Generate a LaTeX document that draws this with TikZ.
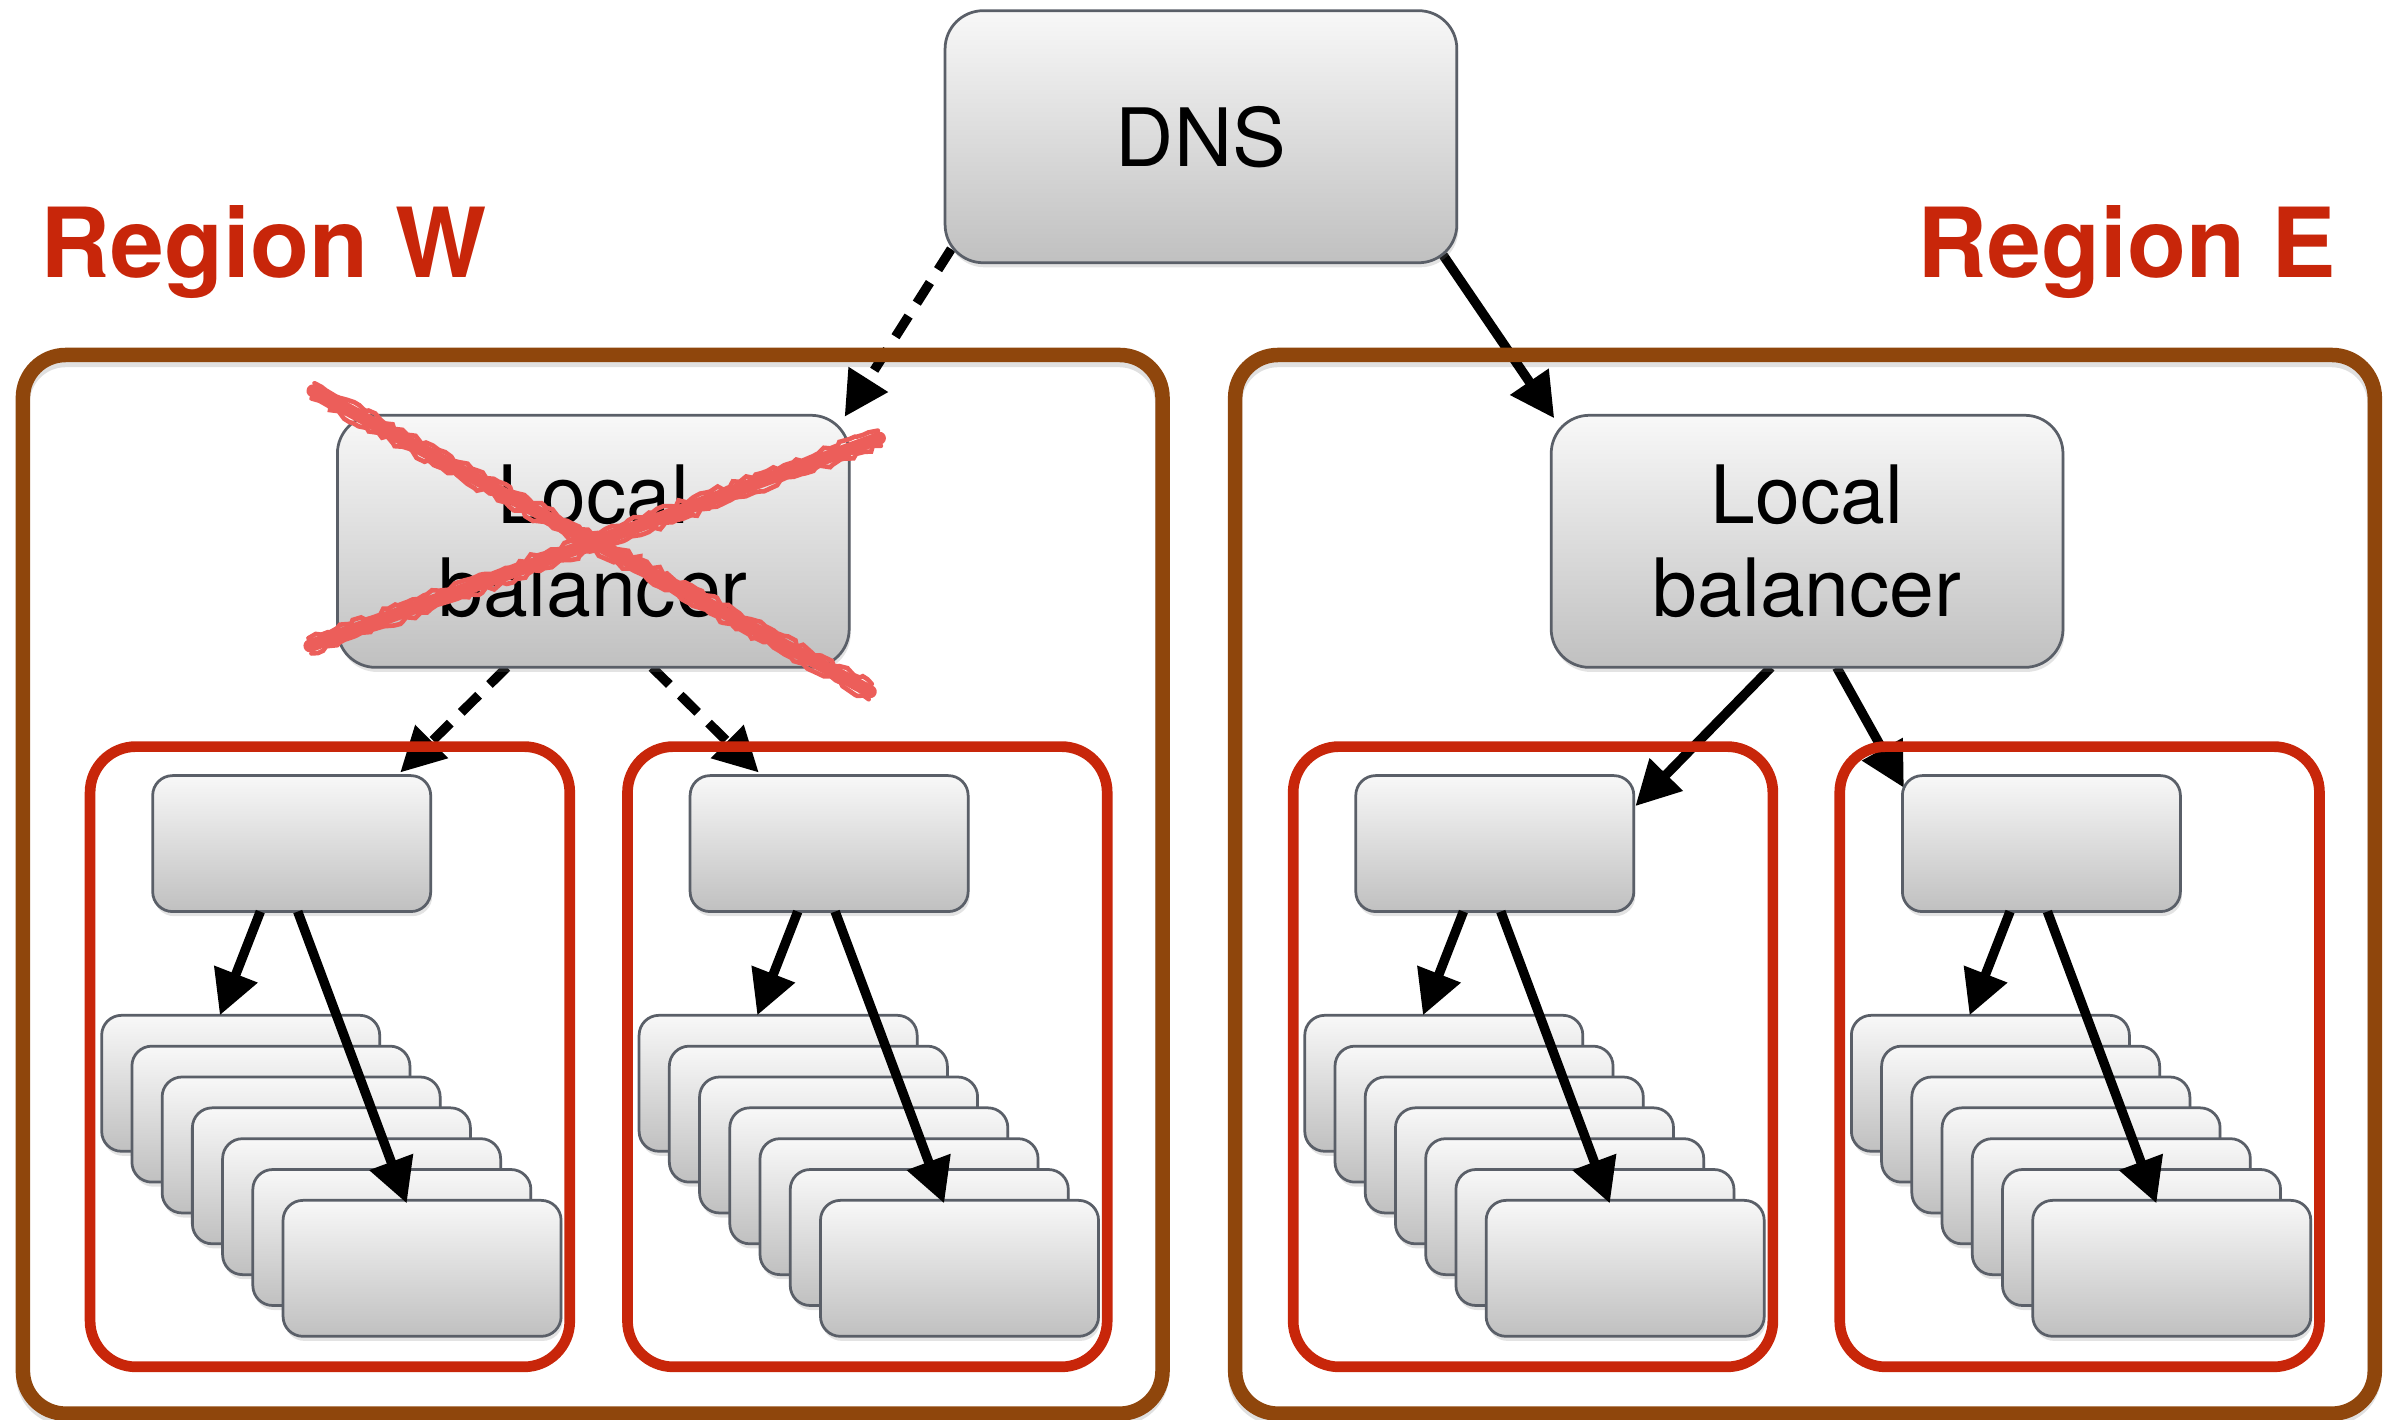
\documentclass[tikz,border=0pt]{standalone}
\usepackage{fontspec}
\setmainfont{TeX Gyre Heros}
\usetikzlibrary{arrows.meta,calc,shadows,decorations.pathmorphing}

\definecolor{regionred}{RGB}{200,38,10}
\definecolor{framebrown}{RGB}{143,70,12}
\definecolor{boxedge}{RGB}{90,95,104}
\definecolor{boxtop}{RGB}{248,248,248}
\definecolor{boxbottom}{RGB}{192,192,192}
\definecolor{crossred}{RGB}{236,94,90}

\pgfdeclarelayer{links}
\pgfsetlayers{links,main}

\tikzset{
  graybox/.style={draw=boxedge, line width=0.018cm, top color=boxtop, bottom color=boxbottom,
    rounded corners=0.25cm, inner sep=0pt, outer sep=0pt, anchor=north west,
    drop shadow={shadow xshift=0.01cm, shadow yshift=-0.03cm, opacity=0.22}},
  bigbox/.style={graybox, minimum width=3.35cm, minimum height=1.65cm,
    font=\fontsize{15}{17.4}\selectfont, align=center},
  smallbox/.style={graybox, rounded corners=0.13cm, minimum width=1.82cm, minimum height=0.89cm},
  regionframe/.style={draw=framebrown, line width=0.095cm, rounded corners=0.28cm,
    inner sep=0pt, outer sep=0pt, anchor=north west, minimum width=7.46cm, minimum height=6.93cm},
  frameshade/.style={draw=black, opacity=0.12, line width=0.09cm, rounded corners=0.28cm},
  cellframe/.style={draw=regionred, line width=0.07cm, rounded corners=0.3cm,
    inner sep=0pt, outer sep=0pt, anchor=north west, minimum width=3.14cm, minimum height=4.06cm},
  link/.style={line width=0.062cm, -{Triangle[length=0.29cm,width=0.29cm]}},
  lostlink/.style={link, dash pattern=on 0.16cm off 0.1cm},
  regionlabel/.style={text=regionred, font=\fontsize{18}{20}\bfseries\selectfont, inner sep=0pt},
  crossstroke/.style={draw=crossred, line cap=round},
  roughedge/.style={crossstroke, line width=0.03cm, decorate,
    decoration={random steps, segment length=0.04cm, amplitude=0.018cm}},
}

\begin{document}
\begin{tikzpicture}[x=0.01cm, y=-0.01cm]
  \useasboundingbox (0,0) rectangle (1568,930);

  % region titles
  \node[regionlabel, anchor=base west] (titlew) at (26,182) {Region W};
  \node[regionlabel, anchor=base east] (titlee) at (1531,182) {Region E};

  % region frames with a soft inner shadow under the top edge
  \draw[frameshade] (15,236) rectangle (761,929);
  \draw[frameshade] (809,236) rectangle (1555,929);
  \node[regionframe] (westregion) at (15,232.5) {};
  \node[regionframe] (eastregion) at (809,232.5) {};

  % DNS and the two local balancers
  \node[bigbox] (dns) at (619,7) {DNS};
  \node[bigbox] (wlb) at (221,272) {Local\\balancer};
  \node[bigbox] (elb) at (1016,272) {Local\\balancer};

  % four server groups: a balancer on top of a stack of servers
  \foreach \F/\nm in {59/ww, 411/we, 847/ew, 1205/ee} {
    \node[cellframe] (\nm-frame) at (\F,489) {};
    \node[smallbox] (\nm-top) at (\F+41,508) {};
    \foreach \k in {0,...,6} {
      \node[smallbox] (\nm-s\k) at ({\F+7.6+19.8*\k},{665+20.2*\k}) {};
    }
    \draw[link] ($(\nm-top.south west)+(70.5,0)$) -- ($(\nm-s0.north west)+(77.4,0)$);
    \draw[link] ($(\nm-top.south west)+(95,0)$) -- ($(\nm-s6.north west)+(81,2)$);
  }

  % connectors that run beneath the frames
  \begin{pgfonlayer}{links}
    \draw[lostlink] ($(dns.south west)+(4,-9)$) -- ($(wlb.north east)+(-3,1)$);
    \draw[link] ($(dns.south east)+(-9,-5)$) -- ($(elb.north west)+(2,2)$);
    \draw[lostlink] ($(wlb.south west)+(111,0)$) -- ($(ww-top.north east)+(-20,-2)$);
    \draw[lostlink] ($(wlb.south west)+(206,0)$) -- ($(we-top.north west)+(45,-2)$);
    \draw[link] ($(elb.south west)+(144,0)$) -- ($(ew-top.north east)+(1,20)$);
    \draw[link] ($(elb.south west)+(187,0)$) -- ($(ee-top.north west)+(1,8)$);
  \end{pgfonlayer}

  % failed west balancer crossed out
  \pgfmathsetseed{11}
  \draw[crossstroke, line width=0.085cm] (205,256) -- (570,453);
  \draw[crossstroke, line width=0.085cm] (203,423) -- (576,287);
  \draw[roughedge] (206,251) -- (571,448);
  \draw[roughedge] (204,261) -- (569,458);
  \draw[roughedge] (202,418) -- (575,282);
  \draw[roughedge] (204,428) -- (577,292);
\end{tikzpicture}
\end{document}
